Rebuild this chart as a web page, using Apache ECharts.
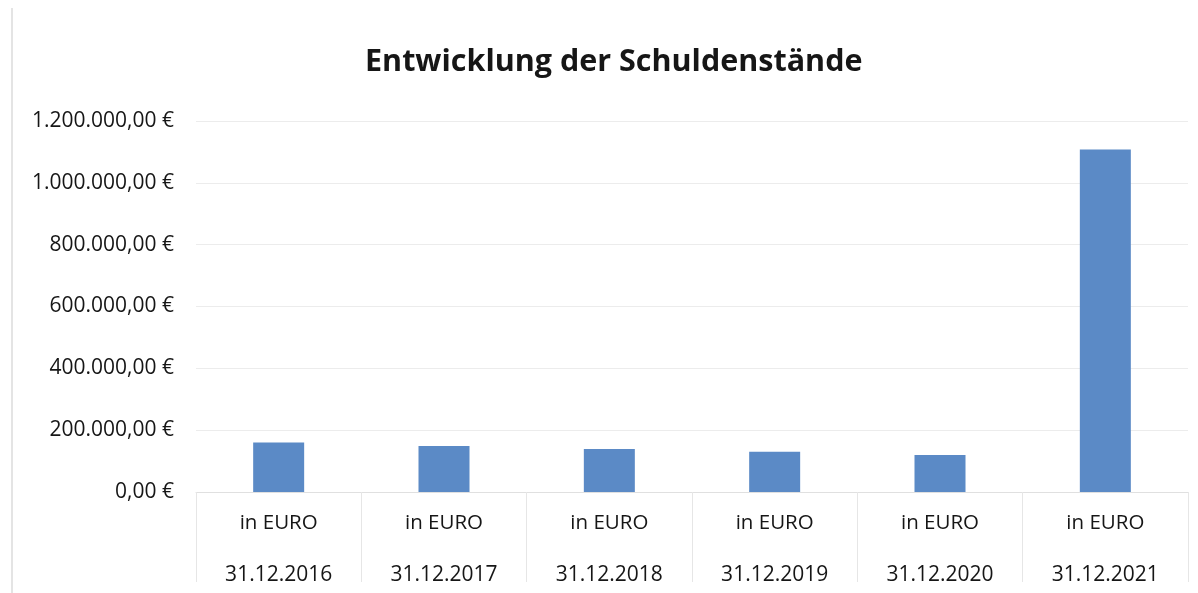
<!DOCTYPE html>
<html>
<head>
<meta charset="utf-8">
<script src="https://cdn.jsdelivr.net/npm/echarts@6/dist/echarts.min.js"></script>
<style>html,body{margin:0;padding:0;background:#fff;}#c{width:1198px;height:593px;}</style>
</head>
<body>
<div id="c"></div>
<script>
const title = 'Entwicklung der Schuldenstände';
const unitLabel = 'in EURO';
const categories = ['31.12.2016', '31.12.2017', '31.12.2018', '31.12.2019', '31.12.2020', '31.12.2021'];
const debtValues = [160000, 149000, 139000, 130000, 120000, 1108000];
const yTicks = [0, 200000, 400000, 600000, 800000, 1000000, 1200000];

function fmtEuro(v) {
  const s = Math.round(v).toString().replace(/\B(?=(\d{3})+(?!\d))/g, '.');
  return s + ',00 €';
}

const chart = echarts.init(document.getElementById('c'), null, {renderer: 'canvas'});
const FONT = '"Open Sans", "Noto Sans", sans-serif';
chart.setOption({
  animation: false,
  backgroundColor: '#fff',
  title: {
    text: title,
    left: 360,
    top: 42,
    textStyle: {fontFamily: FONT, fontWeight: 'bold', fontSize: 30.5, color: '#161616'}
  },
  graphic: [{
    type: 'line', shape: {x1: 12, y1: 8, x2: 12, y2: 593},
    style: {stroke: '#e4e4e4', lineWidth: 2}
  }],
  grid: {left: 196, right: 10, top: 121, bottom: 101},
  xAxis: {
    type: 'category',
    data: categories,
    axisLine: {show: true, lineStyle: {color: '#e0e0e0', width: 1}},
    axisTick: {show: true, length: 90, lineStyle: {color: '#e6e6e6', width: 1}},
    axisLabel: {
      margin: 4,
      interval: 0,
      formatter: function (v) { return '{a|' + unitLabel + '}\n{b|' + v + '}'; },
      rich: {
        a: {fontFamily: FONT, fontSize: 20.5, color: '#161616', lineHeight: 54},
        b: {fontFamily: FONT, fontSize: 21, color: '#161616', lineHeight: 50}
      }
    }
  },
  yAxis: {
    type: 'value',
    min: yTicks[0],
    max: yTicks[yTicks.length - 1],
    interval: yTicks[1] - yTicks[0],
    axisLine: {show: false},
    axisTick: {show: false},
    splitLine: {show: true, lineStyle: {color: '#ececec', width: 1}},
    axisLabel: {
      margin: 22,
      fontFamily: FONT, fontSize: 21, color: '#161616',
      formatter: fmtEuro
    }
  },
  series: [{
    type: 'bar',
    data: debtValues,
    barWidth: 51,
    itemStyle: {color: '#5b8ac6'}
  }]
});
</script>
</body>
</html>
